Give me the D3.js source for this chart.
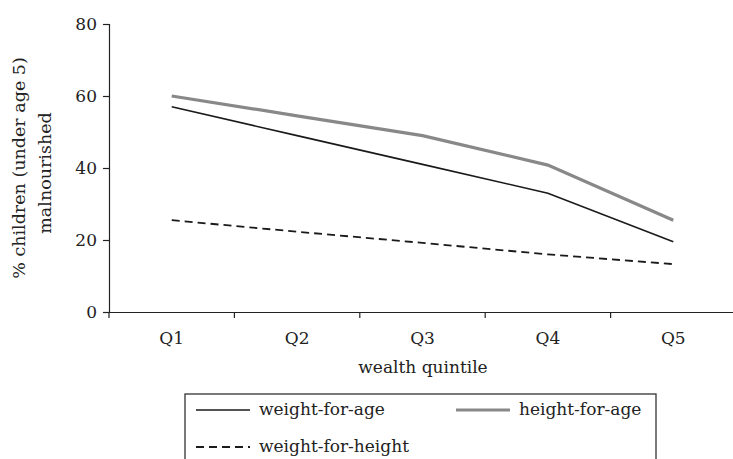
<!DOCTYPE html>
<html>
<head>
<meta charset="utf-8">
<script src="https://cdn.jsdelivr.net/npm/d3@7"></script>
<style>
  body { margin: 0; background: #fff; }
  svg text { font-family: "DejaVu Serif", serif; fill: #222; }
</style>
</head>
<body>
<svg id="chart" width="733" height="459"></svg>
<script>
const categories = ["Q1", "Q2", "Q3", "Q4", "Q5"];
const weightForAge = [57, 49, 41, 33, 19.5];
const heightForAge = [60, 54.5, 49, 40.8, 25.5];
const weightForHeight = [25.5, 22.3, 19.2, 16, 13.3];
const yTicks = [0, 20, 40, 60, 80];
const seriesNames = ["weight-for-age", "height-for-age", "weight-for-height"];

const svg = d3.select("#chart");
const x = d3.scaleBand().domain(categories).range([109, 736]).padding(0);
const y = d3.scaleLinear().domain([0, 80]).range([312, 24]);

const series = [
  { name: seriesNames[0], values: weightForAge, color: "#1a1a1a", width: 1.6, dash: null },
  { name: seriesNames[1], values: heightForAge, color: "#888888", width: 3.2, dash: null },
  { name: seriesNames[2], values: weightForHeight, color: "#1a1a1a", width: 1.8, dash: "8,5" }
];

// Y axis
const yAxis = svg.append("g").attr("transform", "translate(109,0)")
  .call(d3.axisLeft(y).tickValues(yTicks).tickSize(6).tickPadding(6));
yAxis.selectAll("path, line").attr("stroke", "#222").attr("stroke-width", 1.2);
yAxis.selectAll("text").style("font-size", "17px").style("font-family", "DejaVu Serif");

// X axis (labels centered in bands, ticks at band boundaries)
const xAxis = svg.append("g").attr("transform", "translate(0,312)")
  .call(d3.axisBottom(x).tickSize(0).tickPadding(20));
xAxis.select("path").attr("stroke", "#222").attr("stroke-width", 1.2);
xAxis.selectAll("text").style("font-size", "17px").style("font-family", "DejaVu Serif");
const bounds = categories.map(c => x(c)).concat([x.range()[1]]);
svg.append("g").selectAll("line").data(bounds).join("line")
  .attr("x1", d => d).attr("x2", d => d)
  .attr("y1", 312).attr("y2", 318)
  .attr("stroke", "#222").attr("stroke-width", 1.2);

// Axis titles
svg.append("text")
  .attr("x", 423).attr("y", 373)
  .attr("text-anchor", "middle")
  .style("font-size", "17px")
  .text("wealth quintile");

const yTitle = svg.append("text")
  .attr("transform", "translate(0,168) rotate(-90)")
  .attr("text-anchor", "middle")
  .style("font-size", "17.5px");
yTitle.append("tspan").attr("x", 0).attr("y", 25).text("% children (under age 5)");
yTitle.append("tspan").attr("x", -5).attr("y", 51).text("malnourished");

// Lines
const line = d3.line()
  .x((d, i) => x(categories[i]) + x.bandwidth() / 2)
  .y(d => y(d));
svg.append("g").selectAll("path").data(series).join("path")
  .attr("d", d => line(d.values))
  .attr("fill", "none")
  .attr("stroke", d => d.color)
  .attr("stroke-width", d => d.width)
  .attr("stroke-dasharray", d => d.dash);

// Legend
const legend = svg.append("g");
legend.append("rect")
  .attr("x", 185).attr("y", 394)
  .attr("width", 471).attr("height", 80)
  .attr("fill", "none").attr("stroke", "#333").attr("stroke-width", 1.3);
const legendPos = [
  { lx: 196, ly: 410 },
  { lx: 456, ly: 410 },
  { lx: 196, ly: 447 }
];
series.forEach((s, i) => {
  const p = legendPos[i];
  legend.append("line")
    .attr("x1", p.lx).attr("x2", p.lx + 54)
    .attr("y1", p.ly).attr("y2", p.ly)
    .attr("stroke", s.color).attr("stroke-width", s.width)
    .attr("stroke-dasharray", s.dash);
  legend.append("text")
    .attr("x", p.lx + 63).attr("y", p.ly + 5)
    .style("font-size", "17px")
    .text(s.name);
});
</script>
</body>
</html>
